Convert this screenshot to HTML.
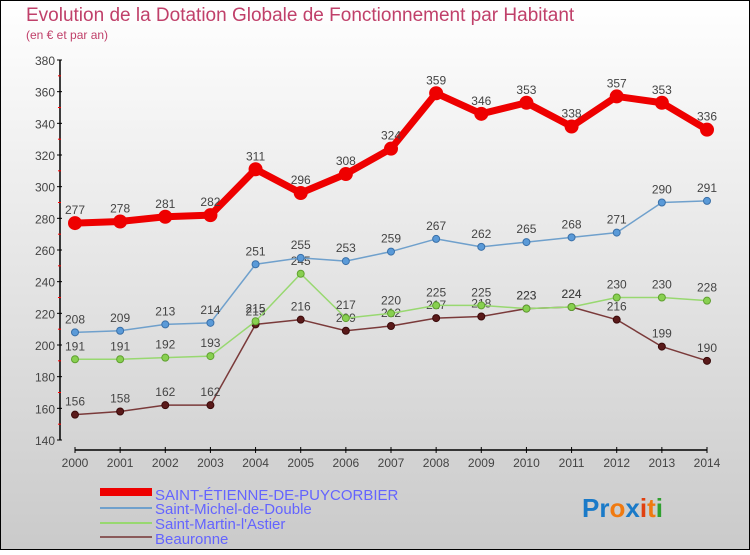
<!DOCTYPE html>
<html><head><meta charset="utf-8"><style>
body{margin:0;width:750px;height:550px;overflow:hidden;font-family:"Liberation Sans",sans-serif}
svg text{font-family:"Liberation Sans",sans-serif}
</style></head><body>
<svg id="c" width="750" height="550" xmlns="http://www.w3.org/2000/svg">
<defs><linearGradient id="bg" x1="0" y1="0" x2="0" y2="1"><stop offset="0" stop-color="#ffffff"/><stop offset="1" stop-color="#cacaca"/></linearGradient></defs>
<rect x="0.5" y="0.5" width="749" height="549" fill="url(#bg)" stroke="#000"/>
<text x="26" y="21" font-size="19" fill="#c0406a">Evolution de la Dotation Globale de Fonctionnement par Habitant</text>
<text x="26" y="39" font-size="12" fill="#c0406a">(en € et par an)</text>
<g id="axes"></g><g id="series"></g>
<g>
<rect x="100" y="488" width="52" height="8" fill="#e00"/>
<text x="155" y="500" font-size="15" fill="#6464ff">SAINT-ÉTIENNE-DE-PUYCORBIER</text>
<rect x="100" y="507" width="52" height="2" fill="#6fa0cc"/>
<text x="155" y="514" font-size="15" fill="#6464ff">Saint-Michel-de-Double</text>
<rect x="100" y="522" width="52" height="2" fill="#98d870"/>
<text x="155" y="529" font-size="15" fill="#6464ff">Saint-Martin-l'Astier</text>
<rect x="100" y="536" width="52" height="2" fill="#8a5a5a"/>
<text x="155" y="544" font-size="15" fill="#6464ff">Beauronne</text>
</g>
<text x="582" y="517" font-size="26" font-weight="bold"><tspan fill="#1a7ac8">Pr</tspan><tspan fill="#f07a10">o</tspan><tspan fill="#1a7ac8">x</tspan><tspan fill="#e04010">i</tspan><tspan fill="#f07a10">t</tspan><tspan fill="#30a030">i</tspan></text>
</svg>
<script>
const years=[2000,2001,2002,2003,2004,2005,2006,2007,2008,2009,2010,2011,2012,2013,2014];
const yTicks=[140,160,180,200,220,240,260,280,300,320,340,360,380];
const stEtienne=[277,278,281,282,311,296,308,324,359,346,353,338,357,353,336];
const stMichel=[208,209,213,214,251,255,253,259,267,262,265,268,271,290,291];
const stMartin=[191,191,192,193,215,245,217,220,225,225,223,224,230,230,228];
const beauronne=[156,158,162,162,213,216,209,212,217,218,223,224,216,199,190];
const NS="http://www.w3.org/2000/svg";
const X=i=>75+i*(707-75)/(years.length-1);
const Y=v=>440-(v-140)*(380/240);
function mk(tag,attrs,parent){const e=document.createElementNS(NS,tag);for(const k in attrs)e.setAttribute(k,attrs[k]);parent.appendChild(e);return e;}
const ax=document.getElementById('axes');
let a=mk('line',{x1:60,y1:60,x2:60,y2:440,stroke:'#000','stroke-width':1.5},ax);


a=mk('line',{x1:75,y1:450,x2:707,y2:450,stroke:'#000','stroke-width':1.5},ax);


yTicks.forEach((t,i)=>{
  mk('line',{x1:57,y1:Y(t),x2:62,y2:Y(t),stroke:'#000'},ax);
  if(i<yTicks.length-1)mk('line',{x1:58,y1:Y(t+10),x2:61,y2:Y(t+10),stroke:'#f00'},ax);
  const tx=mk('text',{x:55,y:Y(t)+5,'text-anchor':'end','font-size':12,fill:'#444'},ax);
  tx.textContent=t;
  
  
});
years.forEach((yr,i)=>{
  mk('line',{x1:X(i),y1:447,x2:X(i),y2:453,stroke:'#000'},ax);
  const tx=mk('text',{x:X(i),y:467,'text-anchor':'middle','font-size':12,fill:'#444'},ax);
  tx.textContent=yr;
  
  
});
const sg=document.getElementById('series');
function draw(data,name,color,w,r,dot,stroke){
  const g=mk('g',{},sg);
  
  
  mk('polyline',{points:data.map((v,i)=>X(i)+','+Y(v)).join(' '),fill:'none',stroke:color,'stroke-width':w,'stroke-linejoin':'round'},g);
  data.forEach((v,i)=>{
    const c=mk('circle',{cx:X(i),cy:Y(v),r:r,fill:dot,stroke:stroke,'stroke-width':1},g);
    
    
    const t=mk('text',{x:X(i),y:Y(v)-9,'text-anchor':'middle','font-size':12,fill:'#444'},g);
    t.textContent=v;
    
    
  });
}
draw(beauronne,'series-beauronne','#7a3a3a',1.5,3.5,'#5a1a1a','#3a0a0a');
draw(stMartin,'series-saint-martin','#98d870',1.5,3.5,'#88d050','#60a030');
draw(stMichel,'series-saint-michel','#6fa0cc',1.5,3.5,'#5a9ad8','#3a70a8');
draw(stEtienne,'series-saint-etienne','#e00',7,6.5,'#e00','#e00');
</script>
</body></html>
